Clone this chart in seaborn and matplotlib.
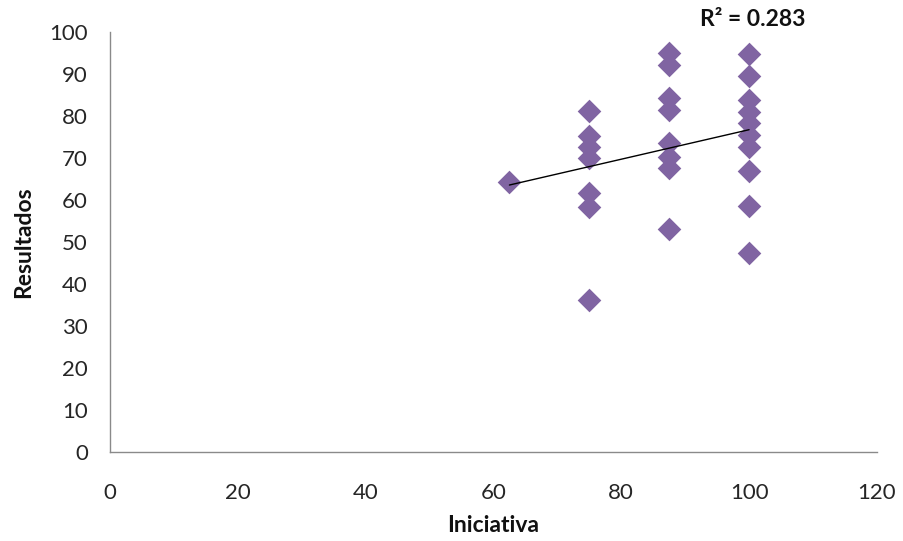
import numpy as np
import pandas as pd
import matplotlib
matplotlib.use("Agg")
import matplotlib.pyplot as plt
import seaborn as sns

iniciativa = [62.5,
              75, 75, 75, 75, 75, 75, 75,
              87.5, 87.5, 87.5, 87.5, 87.5, 87.5, 87.5, 87.5,
              100, 100, 100, 100, 100, 100, 100, 100, 100, 100]
resultados = [64.2,
              81.2, 75.2, 72.7, 70.1, 61.6, 58.4, 36.3,
              94.9, 92.1, 84.2, 81.4, 73.5, 70.3, 67.5, 53.0,
              94.8, 89.4, 83.8, 81.0, 78.3, 75.5, 72.7, 67.0, 58.6, 47.3]
x_ticks = [0, 20, 40, 60, 80, 100, 120]
y_ticks = [0, 10, 20, 30, 40, 50, 60, 70, 80, 90, 100]
r2_label = "R² = 0.283"

df = pd.DataFrame({"Iniciativa": iniciativa, "Resultados": resultados})

sns.set_theme(style="white")
plt.rcParams["font.family"] = ["Lato", "DejaVu Sans"]

fig = plt.figure(figsize=(9.04, 5.41), dpi=100)
ax = fig.add_axes([0.1217, 0.1645, 0.97 - 0.1217, 0.941 - 0.1645])

sns.regplot(data=df, x="Iniciativa", y="Resultados", ax=ax, ci=None,
            marker="D", truncate=True,
            scatter_kws=dict(s=145, color="#8064A2", alpha=1, linewidths=0, zorder=2),
            line_kws=dict(color="black", lw=1, zorder=3))

ax.set_xlim(0, 120)
ax.set_ylim(0, 100)
ax.set_xticks(x_ticks)
ax.set_yticks(y_ticks)
ax.tick_params(axis="both", length=0, labelsize=16, colors="#262626")
ax.tick_params(axis="y", pad=16)
ax.tick_params(axis="x", pad=22)
for s in ["top", "right"]:
    ax.spines[s].set_visible(False)
for s in ["left", "bottom"]:
    ax.spines[s].set_color("#8a8a8a")
    ax.spines[s].set_linewidth(1)
ax.set_xlabel("Iniciativa", fontsize=16.5, fontweight="bold", labelpad=9, color="#111111")
ax.set_ylabel("Resultados", fontsize=16.5, fontweight="bold", labelpad=11, color="#111111")

ax.text(100.5, 102.9, r2_label, fontsize=16.5, fontweight="bold",
        ha="center", va="center", clip_on=False, color="#111111")

fig.savefig("out.png", dpi=100)
